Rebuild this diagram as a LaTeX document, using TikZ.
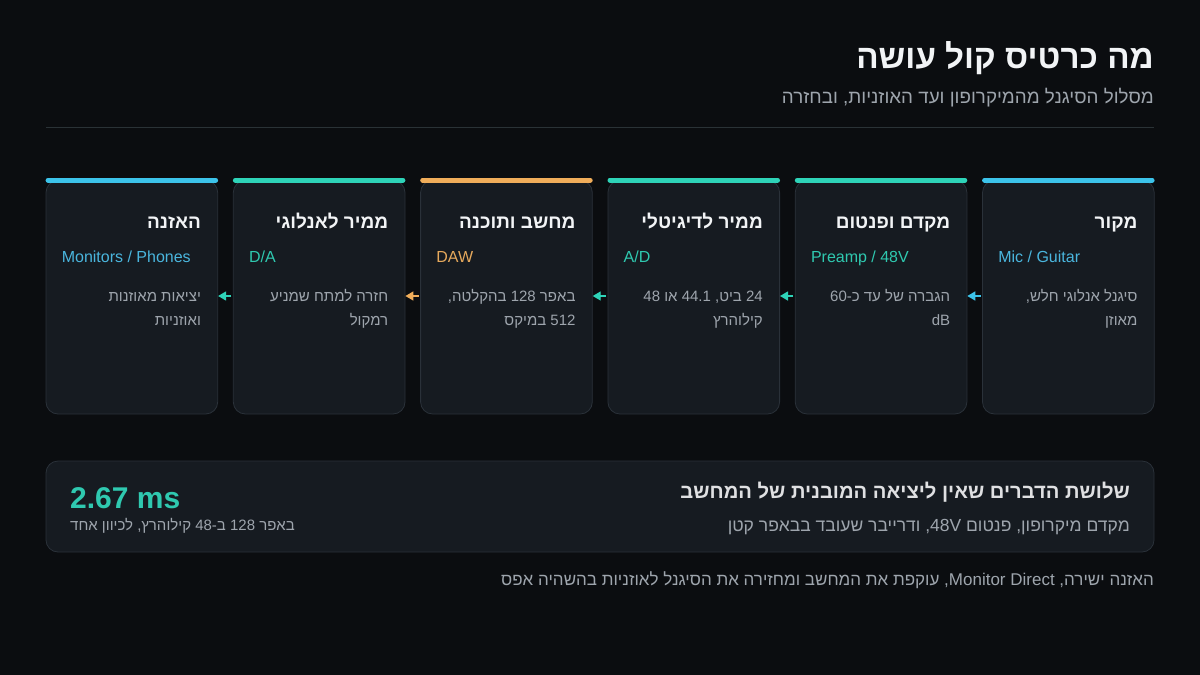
\documentclass[tikz,border=0pt]{standalone}
\usepackage{fontspec}
\setmainfont{Liberation Sans}
\newfontfamily\hebfont[Script=Hebrew]{Liberation Sans}
\TeXXeTstate=1
\usetikzlibrary{arrows.meta}
\definecolor{bg}{HTML}{0B0D10}
\definecolor{cardfill}{HTML}{161B21}
\definecolor{cardline}{HTML}{2A3139}
\definecolor{rule}{HTML}{2A3236}
\definecolor{titlecol}{HTML}{F2F4F6}
\definecolor{graytext}{HTML}{9EA5AD}
\definecolor{cblue}{HTML}{3CC3EA}
\definecolor{tblue}{HTML}{4AB6DE}
\definecolor{cteal}{HTML}{2ED3B8}
\definecolor{tteal}{HTML}{2FC9B0}
\definecolor{corange}{HTML}{F0AD5A}
\definecolor{torange}{HTML}{E6A95C}
\newcommand\rtltext[1]{{\hebfont\beginR #1\endR}}
\tikzset{
  card/.style={draw=cardline, fill=cardfill, line width=0.8pt, rounded corners=12pt,
    minimum width=171.7pt, minimum height=233.5pt, inner sep=0pt},
  topbar/.style={line width=5pt, line cap=round},
  ctitle/.style={anchor=base east, inner sep=0pt, text=titlecol, font=\fontsize{19}{23}\selectfont\bfseries},
  csub/.style={anchor=base west, inner sep=0pt, font=\fontsize{16}{20}\selectfont},
  cdesc/.style={anchor=base east, inner sep=0pt, text=graytext, font=\fontsize{15}{20}\selectfont},
  flowarrow/.style={line width=1.4pt, -{Triangle[length=8pt,width=9pt]}},
}
\begin{document}
\begin{tikzpicture}[x=1pt,y=-1pt]
\fill[bg] (0,0) rectangle (1200,675);
\useasboundingbox (0,0) rectangle (1200,675);

% header
\node[anchor=base east, inner sep=0pt, text=titlecol, font=\fontsize{33.2}{40}\selectfont\bfseries] (title) at (1154,68)
  {\rtltext{מה כרטיס קול עושה}};
\node[anchor=base east, inner sep=0pt, text=graytext, font=\fontsize{18.8}{23}\selectfont] (subtitle) at (1154,103)
  {\rtltext{מסלול הסיגנל מהמיקרופון ועד האוזניות, ובחזרה}};
\coordinate (ruleL) at (46,127);
\coordinate (ruleR) at (1154,127);
\draw[rule, line width=0.8pt] (ruleL) -- (ruleR);

% cards
\coordinate (ay) at (0,296);
\foreach \i/\bc/\tc/\ttl/\sub/\dA/\dB in {
  0/cblue/tblue/{האזנה}/{Monitors / Phones}/{יציאות מאוזנות}/{ואוזניות},
  1/cteal/tteal/{ממיר לאנלוגי}/{D/A}/{חזרה למתח שמניע}/{רמקול},
  2/corange/torange/{מחשב ותוכנה}/{DAW}/{באפר 128 בהקלטה,}/{512 במיקס},
  3/cteal/tteal/{ממיר לדיגיטלי}/{A/D}/{24 ביט, 44.1 או 48}/{קילוהרץ},
  4/cteal/tteal/{מקדם ופנטום}/{Preamp / 48V}/{הגברה של עד כ-60}/{dB},
  5/cblue/tblue/{מקור}/{Mic / Guitar}/{סיגנל אנלוגי חלש,}/{מאוזן}}
{
  \pgfmathsetmacro{\cx}{46+85.85+\i*187.3}
  \node[card] (c\i) at (\cx,297.25) {};
  \draw[topbar, \bc] ([xshift=2.5pt]c\i.north west) -- ([xshift=-2.5pt]c\i.north east);
  \node[ctitle] (t\i) at ([xshift=-17pt]c\i.north east |- 0,228) {\rtltext{\ttl}};
  \node[csub, text=\tc] (s\i) at ([xshift=16pt]c\i.north west |- 0,262) {\sub};
  \node[cdesc] (da\i) at ([xshift=-17pt]c\i.north east |- 0,301) {\rtltext{\dA}};
  \node[cdesc] (db\i) at ([xshift=-17pt]c\i.north east |- 0,325) {\rtltext{\dB}};
}
\foreach \j/\k/\ac in {5/4/cblue, 4/3/cteal, 3/2/cteal, 2/1/corange, 1/0/cteal}{
  \draw[flowarrow, \ac] ([xshift=-1.5pt]c\j.west |- ay) -- (c\k.east |- ay);
}

% bottom panel
\node[draw=cardline, fill=cardfill, line width=0.8pt, rounded corners=12pt, minimum width=1108pt,
  minimum height=91pt, inner sep=0pt] (panel) at (600,506.5) {};
\node[anchor=base east, inner sep=0pt, text=titlecol!92!black, font=\fontsize{20.2}{24}\selectfont\bfseries] (ptitle)
  at (1130,498) {\rtltext{שלושת הדברים שאין ליציאה המובנית של המחשב}};
\node[anchor=base east, inner sep=0pt, text=graytext, font=\fontsize{17.5}{20}\selectfont] (psub)
  at (1130,531) {\rtltext{מקדם מיקרופון, פנטום \beginL 48V\endL, ודרייבר שעובד בבאפר קטן}};
\node[anchor=base west, inner sep=0pt, text=tteal, font=\fontsize{30}{34}\selectfont\bfseries] (ms)
  at (70,508) {2.67 ms};
\node[anchor=base west, inner sep=0pt, text=graytext, font=\fontsize{15}{20}\selectfont] (msnote)
  at (70,530) {\rtltext{באפר 128 ב-48 קילוהרץ, לכיוון אחד}};

% footer
\node[anchor=base east, inner sep=0pt, text=graytext, font=\fontsize{17}{20}\selectfont] (footer)
  at (1154,585) {\rtltext{האזנה ישירה, \beginL Monitor Direct\endL, עוקפת את המחשב ומחזירה את הסיגנל לאוזניות בהשהיה אפס}};
\end{tikzpicture}
\end{document}
